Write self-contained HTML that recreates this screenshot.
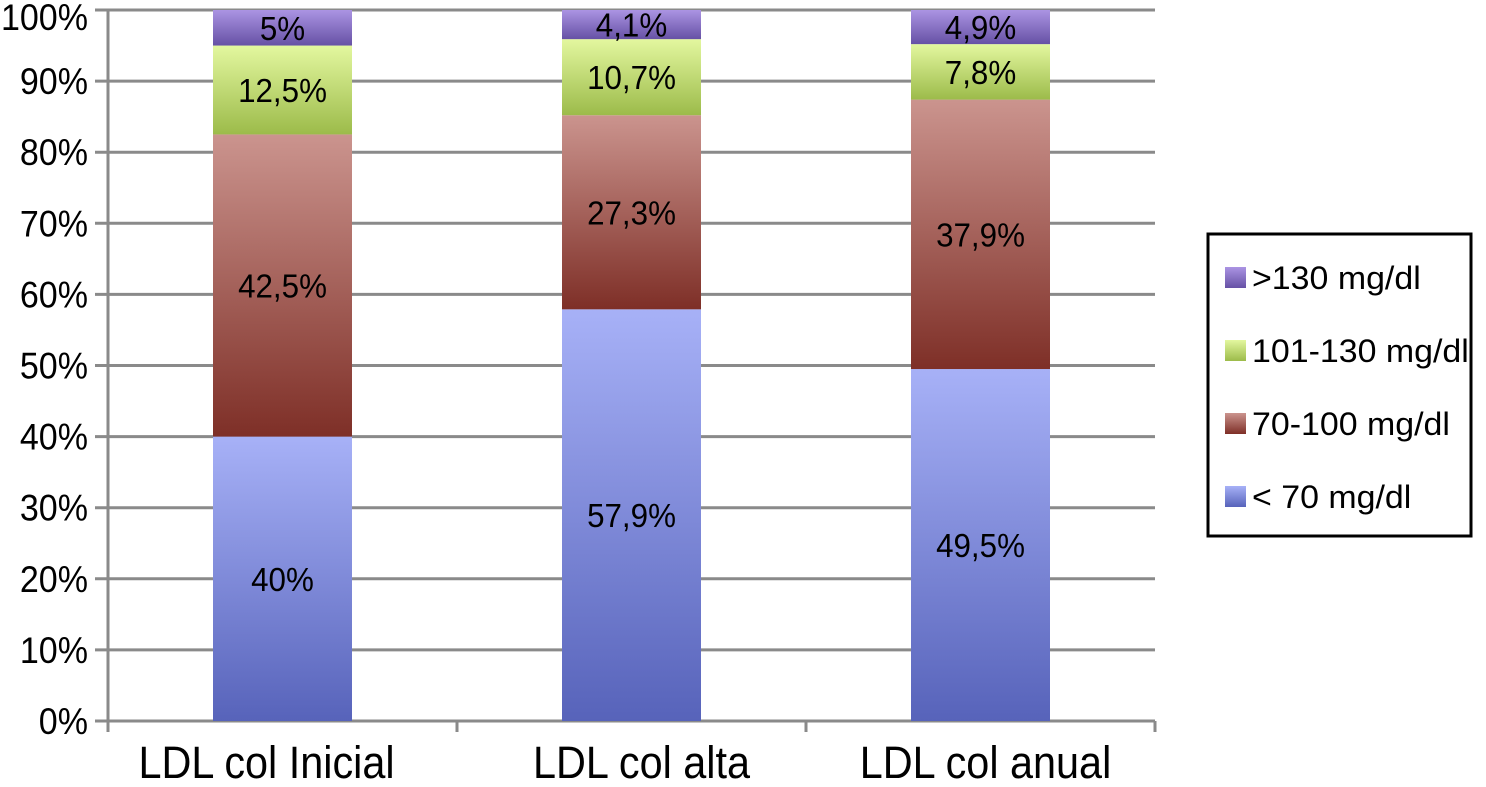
<!DOCTYPE html>
<html><head><meta charset="utf-8"><style>
html,body{margin:0;padding:0;background:#fff;}
svg{display:block;font-family:"Liberation Sans",Arial,sans-serif;}
</style></head><body>
<svg id="chart" width="1486" height="787">
<defs>
<linearGradient id="gBlue" x1="0" y1="0" x2="0" y2="1"><stop offset="0" stop-color="#a7b1f7"/><stop offset="1" stop-color="#5763ba"/></linearGradient>
<linearGradient id="gRed" x1="0" y1="0" x2="0" y2="1"><stop offset="0" stop-color="#cb948e"/><stop offset="1" stop-color="#7e2f27"/></linearGradient>
<linearGradient id="gGreen" x1="0" y1="0" x2="0" y2="1"><stop offset="0" stop-color="#e3f79f"/><stop offset="1" stop-color="#9cbb4a"/></linearGradient>
<linearGradient id="gPurple" x1="0" y1="0" x2="0" y2="1"><stop offset="0" stop-color="#ab94e3"/><stop offset="1" stop-color="#6651a5"/></linearGradient>
</defs>
<g id="grid"></g><g id="bars"></g><g id="axes"></g>
<g>
<rect x="1208" y="234" width="263" height="302" fill="#fff" stroke="#000" stroke-width="3"/>
<g id="legend"></g>
</g>
</svg>
<script>
const categories = ["LDL col Inicial", "LDL col alta", "LDL col anual"];
const seriesNames = ["< 70 mg/dl", "70-100 mg/dl", "101-130 mg/dl", ">130 mg/dl"];
const sLow = [40, 57.9, 49.5];
const sMid = [42.5, 27.3, 37.9];
const sHigh = [12.5, 10.7, 7.8];
const sTop = [5, 4.1, 4.9];
const labelsLow = ["40%", "57,9%", "49,5%"];
const labelsMid = ["42,5%", "27,3%", "37,9%"];
const labelsHigh = ["12,5%", "10,7%", "7,8%"];
const labelsTop = ["5%", "4,1%", "4,9%"];
const yTicks = [0,10,20,30,40,50,60,70,80,90,100];

const NS="http://www.w3.org/2000/svg";
const X0=108, X1=1155, Y0=721, Y1=10;
const y = v => Y0 - (v/100)*(Y0-Y1);
const catW = (X1-X0)/categories.length;
const xc = i => X0 + catW*(i+0.5);
const barW = 139;
const catShift = [-16, 10, 5];
function mk(tag, attrs, parent){const e=document.createElementNS(NS,tag);for(const k in attrs)e.setAttribute(k,attrs[k]);parent.appendChild(e);return e;}
function txt(parent, x, yy, s, size, sx, anchor){
  const t=mk('text',{transform:'translate('+x+','+yy+') scale('+sx+',1)','text-anchor':anchor,'font-size':size,fill:'#000'},parent);
  t.textContent=s; return t;
}
const grid=document.getElementById('grid'), bars=document.getElementById('bars'), axes=document.getElementById('axes'), legend=document.getElementById('legend');

yTicks.forEach(t=>{
  const l=mk('line',{x1:95,x2:X1,y1:y(t),y2:y(t),stroke:'#8a8a8a','stroke-width':3},grid);
  
  
  const tx=txt(axes,88,Math.max(y(t)+13,30),t+'%',37,0.92,'end');
  
  
});
const ax=mk('line',{x1:X0,x2:X0,y1:Y1,y2:Y0+11,stroke:'#8a8a8a','stroke-width':3},axes);


for(let i=0;i<=categories.length;i++){
  const tk=mk('line',{x1:X0+catW*i,x2:X0+catW*i,y1:Y0,y2:Y0+11,stroke:'#8a8a8a','stroke-width':3},axes);
  
  
}
categories.forEach((c,i)=>{
  const t=txt(axes,xc(i)+catShift[i],778,c,45,0.92,'middle');
  
  
});
const series=[[sLow,labelsLow,'url(#gBlue)','lt70'],[sMid,labelsMid,'url(#gRed)','70-100'],[sHigh,labelsHigh,'url(#gGreen)','101-130'],[sTop,labelsTop,'url(#gPurple)','gt130']];
categories.forEach((c,i)=>{
  let base=0;
  series.forEach(([vals,labs,fill,key])=>{
    let top=Math.min(100,base+vals[i]);
    const r=mk('rect',{x:xc(i)-barW/2,y:y(top),width:barW,height:y(base)-y(top),fill:fill},bars);
    
    
    const t=txt(bars,xc(i),(y(base)+y(top))/2+12,labs[i],33,0.95,'middle');
    
    
    base=top;
  });
});
const legItems=[['>130 mg/dl','url(#gPurple)'],['101-130 mg/dl','url(#gGreen)'],['70-100 mg/dl','url(#gRed)'],['< 70 mg/dl','url(#gBlue)']];
legItems.forEach(([n,f],k)=>{
  const cy=277+k*73;
  const s=mk('rect',{x:1225,y:cy-10,width:21,height:21,fill:f},legend);
  
  
  const t=txt(legend,1252,cy+12,n,32,1.06,'start');
  
  
});
</script>
</body></html>
